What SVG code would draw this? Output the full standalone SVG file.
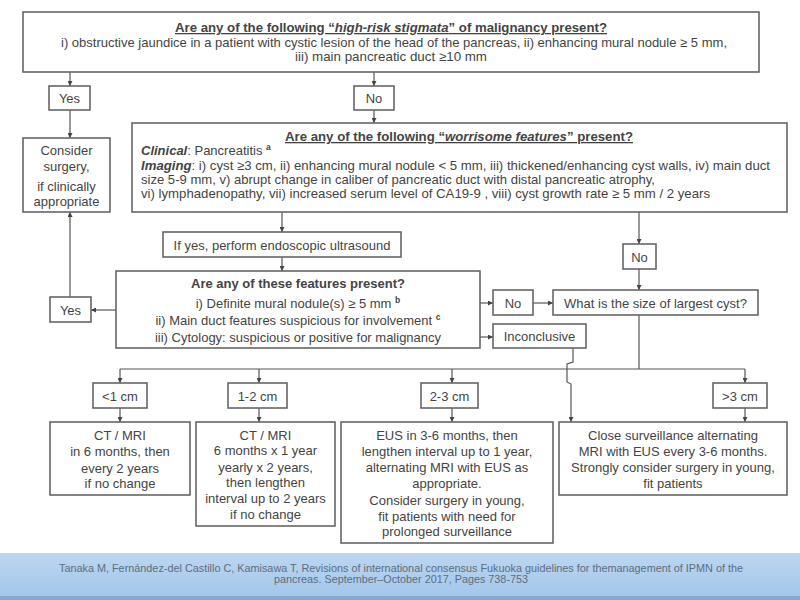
<svg xmlns="http://www.w3.org/2000/svg" width="800" height="600" viewBox="0 0 800 600">
<defs>
<marker id="ah" viewBox="0 0 10 10" refX="10" refY="5" markerWidth="5" markerHeight="5" orient="auto" markerUnits="userSpaceOnUse">
<path d="M0,0 L10,5 L0,10 z" fill="#444"/>
</marker>
<linearGradient id="band" x1="0" y1="0" x2="0" y2="1">
<stop offset="0" stop-color="#bcd6f0"/>
<stop offset="1" stop-color="#a3c6ea"/>
</linearGradient>
<style>
.box{fill:#fff;stroke:#666;stroke-width:1.6}
.t{font-family:"Liberation Sans",Arial,sans-serif;font-size:13px;fill:#444}
.c{text-anchor:middle}
.b{font-weight:bold}
.con{fill:none;stroke:#555;stroke-width:1.2}
.ar{marker-end:url(#ah)}
.sup{font-size:8.5px;font-weight:bold}
</style>
</defs>
<rect width="800" height="600" fill="#fff"/>

<g id="connectors">
<path class="con ar" d="M70,72 V86"/>
<path class="con ar" d="M374,72 V86"/>
<path class="con ar" d="M70,110 V138"/>
<path class="con ar" d="M374,110 V123"/>
<path class="con ar" d="M282,212 V232"/>
<path class="con ar" d="M639,212 V244"/>
<path class="con ar" d="M282,257 V271"/>
<path class="con ar" d="M639,269 V290"/>
<path class="con ar" d="M116,310 H91"/>
<path class="con ar" d="M70,297 V212"/>
<path class="con ar" d="M480,303 H493"/>
<path class="con ar" d="M533,303 H553"/>
<path class="con ar" d="M480,337 H493"/>
<path class="con" d="M639,315 V369"/>
<path class="con" d="M120,369 H745"/>
<path class="con ar" d="M120,369 V383"/>
<path class="con ar" d="M259,369 V383"/>
<path class="con ar" d="M452,369 V383"/>
<path class="con ar" d="M745,369 V383"/>
<path class="con ar" d="M120,408 V422"/>
<path class="con ar" d="M259,408 V422"/>
<path class="con ar" d="M452,408 V422"/>
<path class="con ar" d="M745,408 V422"/>
<path class="con ar" d="M573,348 V362 L567,364 V382 L571,384 V422"/>
</g>

<g id="high-risk">
<rect class="box" x="23" y="12" width="736" height="60"/>
<text class="t c b" x="391" y="32" font-size="13" text-decoration="underline" textLength="432" lengthAdjust="spacingAndGlyphs">Are any of the following “<tspan font-style="italic">high-risk stigmata</tspan>” of malignancy present?</text>
<text class="t c" x="394" y="47" font-size="13" textLength="666" lengthAdjust="spacingAndGlyphs">i) obstructive jaundice in a patient with cystic lesion of the head of the pancreas, ii) enhancing mural nodule ≥ 5 mm,</text>
<text class="t c" x="391" y="61" font-size="13" textLength="192" lengthAdjust="spacingAndGlyphs">iii) main pancreatic duct ≥10 mm</text>
</g>

<g id="yes1">
<rect class="box" x="49" y="86" width="41" height="24"/>
<text class="t c" x="69.5" y="103">Yes</text>
</g>
<g id="no1">
<rect class="box" x="354" y="86" width="40" height="24"/>
<text class="t c" x="374" y="103">No</text>
</g>

<g id="consider-surgery">
<rect class="box" x="23" y="138" width="87" height="74"/>
<text class="t c" x="66.5" y="155">Consider</text>
<text class="t c" x="66.5" y="171">surgery,</text>
<text class="t c" x="66.5" y="191">if clinically</text>
<text class="t c" x="66.5" y="206">appropriate</text>
</g>

<g id="worrisome">
<rect class="box" x="132" y="123" width="655" height="89"/>
<text class="t c b" x="459" y="141" font-size="13" text-decoration="underline" textLength="348" lengthAdjust="spacingAndGlyphs">Are any of the following “<tspan font-style="italic">worrisome features</tspan>” present?</text>
<text class="t" x="141" y="155"><tspan class="b" font-style="italic">Clinical</tspan>: Pancreatitis <tspan class="sup" dy="-5">a</tspan></text>
<text class="t" x="141" y="170" textLength="629" lengthAdjust="spacingAndGlyphs"><tspan class="b" font-style="italic">Imaging</tspan>: i) cyst ≥3 cm, ii) enhancing mural nodule &lt; 5 mm, iii) thickened/enhancing cyst walls, iv) main duct</text>
<text class="t" x="141" y="184" textLength="514" lengthAdjust="spacingAndGlyphs">size 5-9 mm, v) abrupt change in caliber of pancreatic duct with distal pancreatic atrophy,</text>
<text class="t" x="141" y="198" textLength="569" lengthAdjust="spacingAndGlyphs">vi) lymphadenopathy, vii) increased serum level of CA19-9 , viii) cyst growth rate ≥ 5 mm / 2 years</text>
</g>

<g id="eus">
<rect class="box" x="163" y="232" width="238" height="25"/>
<text class="t c" x="282" y="249.5">If yes, perform endoscopic ultrasound</text>
</g>

<g id="no2">
<rect class="box" x="623" y="244" width="33" height="25"/>
<text class="t c" x="639.5" y="261.5">No</text>
</g>

<g id="features">
<rect class="box" x="116" y="271" width="364" height="77"/>
<text class="t c b" x="298" y="288" font-size="13.5">Are any of these features present?</text>
<text class="t c" x="298" y="308">i) Definite mural nodule(s) ≥ 5 mm <tspan class="sup" dy="-5">b</tspan></text>
<text class="t c" x="298" y="325">ii) Main duct features suspicious for involvement <tspan class="sup" dy="-5">c</tspan></text>
<text class="t c" x="298" y="342">iii) Cytology: suspicious or positive for malignancy</text>
</g>

<g id="yes2">
<rect class="box" x="50" y="297" width="41" height="25"/>
<text class="t c" x="70.5" y="314.5">Yes</text>
</g>

<g id="no3">
<rect class="box" x="493" y="290" width="40" height="25"/>
<text class="t c" x="513" y="307.5">No</text>
</g>

<g id="size">
<rect class="box" x="553" y="290" width="205" height="25"/>
<text class="t c" x="655.5" y="307.5">What is the size of largest cyst?</text>
</g>

<g id="inconclusive">
<rect class="box" x="493" y="324" width="93" height="24"/>
<text class="t c" x="539.5" y="340.5">Inconclusive</text>
</g>

<g id="lt1">
<rect class="box" x="93" y="383" width="54" height="25"/>
<text class="t c" x="120" y="400.5">&lt;1 cm</text>
</g>
<g id="c12">
<rect class="box" x="228" y="383" width="59" height="25"/>
<text class="t c" x="257.5" y="400.5">1-2 cm</text>
</g>
<g id="c23">
<rect class="box" x="421" y="383" width="57" height="25"/>
<text class="t c" x="449.5" y="400.5">2-3 cm</text>
</g>
<g id="gt3">
<rect class="box" x="713" y="383" width="54" height="25"/>
<text class="t c" x="740" y="400.5">&gt;3 cm</text>
</g>

<g id="r1">
<rect class="box" x="50" y="422" width="140" height="73"/>
<text class="t c" x="120" y="440">CT / MRI</text>
<text class="t c" x="120" y="455.5">in 6 months, then</text>
<text class="t c" x="120" y="472.5">every 2 years</text>
<text class="t c" x="120" y="487.5">if no change</text>
</g>
<g id="r2">
<rect class="box" x="196" y="422" width="139" height="104"/>
<text class="t c" x="265.5" y="440">CT / MRI</text>
<text class="t c" x="265.5" y="454.5">6 months x 1 year</text>
<text class="t c" x="265.5" y="471.5">yearly x 2 years,</text>
<text class="t c" x="265.5" y="486.5">then lengthen</text>
<text class="t c" x="265.5" y="502.5">interval up to 2 years</text>
<text class="t c" x="265.5" y="518.5">if no change</text>
</g>
<g id="r3">
<rect class="box" x="341" y="422" width="212" height="121"/>
<text class="t c" x="447" y="440">EUS in 3-6 months, then</text>
<text class="t c" x="447" y="455.5">lengthen interval up to 1 year,</text>
<text class="t c" x="447" y="471.5">alternating MRI with EUS as</text>
<text class="t c" x="447" y="487.5">appropriate.</text>
<text class="t c" x="447" y="504.5">Consider surgery in young,</text>
<text class="t c" x="447" y="520.5">fit patients with need for</text>
<text class="t c" x="447" y="535.5">prolonged surveillance</text>
</g>
<g id="r4">
<rect class="box" x="559" y="422" width="228" height="73"/>
<text class="t c" x="673" y="440">Close surveillance alternating</text>
<text class="t c" x="673" y="455.5">MRI with EUS every 3-6 months.</text>
<text class="t c" x="673" y="471.5">Strongly consider surgery in young,</text>
<text class="t c" x="673" y="487.5">fit patients</text>
</g>

<g id="footer">
<rect x="0" y="553" width="800" height="44" fill="url(#band)"/>
<rect x="0" y="596" width="800" height="4" fill="#86abd3"/>
<text x="401" y="572" text-anchor="middle" font-family="Liberation Sans, Arial, sans-serif" font-size="11" fill="#5d6d82" textLength="684" lengthAdjust="spacingAndGlyphs">Tanaka M, Fernández-del Castillo C, Kamisawa T, Revisions of international consensus Fukuoka guidelines for themanagement of IPMN of the</text>
<text x="401" y="583" text-anchor="middle" font-family="Liberation Sans, Arial, sans-serif" font-size="11" fill="#5d6d82" textLength="254" lengthAdjust="spacingAndGlyphs">pancreas. September–October 2017, Pages 738-753</text>
</g>
</svg>
